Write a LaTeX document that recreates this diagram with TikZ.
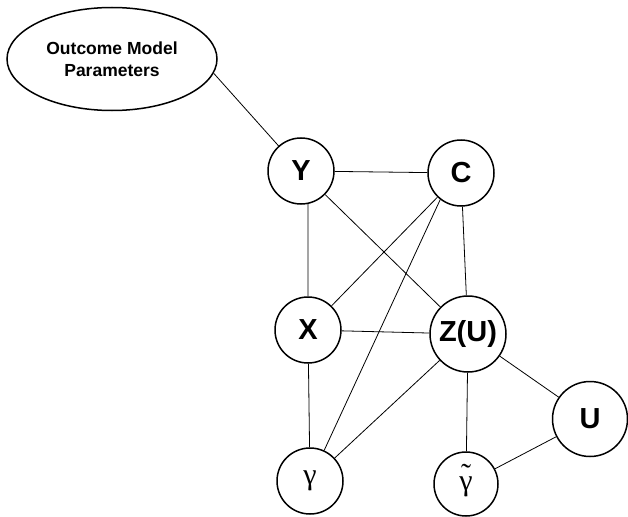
\documentclass[tikz,border=0pt]{standalone}
\usepackage{fontspec}
\setmainfont{Liberation Sans}
\newfontfamily\griego{Liberation Serif}
\usetikzlibrary{shapes.geometric}

\tikzset{
    nodovar/.style={circle, draw, line width=1.5pt, minimum size=66pt, inner sep=0pt,
        font=\fontsize{29}{30}\selectfont\bfseries},
    nodopar/.style={nodovar, font=\fontsize{30}{30}\griego},
    arista/.style={line width=0.8pt}
}

\begin{document}
\begin{tikzpicture}[x=1pt, y=-1pt]
        \useasboundingbox (0,0) rectangle (628,516);

        % Nodo de parametros del modelo
        \node[ellipse, draw, line width=1.5pt, minimum width=210pt, minimum height=103pt,
            align=center, font=\fontsize{17.5}{22}\selectfont\bfseries] (omp) at (112,59)
            {Outcome Model\\Parameters};

        % Variables
        \node[nodovar] (Y) at (301,171) {Y};
        \node[nodovar] (C) at (461,173) {C};
        \node[nodovar] (X) at (308,330) {X};
        \node[nodovar, minimum size=76pt] (Z) at (468,334) {Z(U)};
        \node[nodovar, minimum size=75pt] (U) at (590,419) {U};
        \node[nodopar] (g) at (310,481) {γ};
        \node[nodopar, minimum size=64pt] (gt) at (466,484)
            {\ooalign{γ\cr\hidewidth\raisebox{0.2em}{\char"02DC}\hidewidth}};

        % Aristas
        \draw[arista] (omp.-8) -- (Y);
        \draw[arista] (Y) -- (C);
        \draw[arista] (Y.282) -- (X);
        \draw[arista] (Y) -- (Z);
        \draw[arista] (C) -- (X);
        \draw[arista] (C.232) -- (g);
        \draw[arista] (C) -- (Z);
        \draw[arista] (X) -- (Z);
        \draw[arista] (X) -- (g);
        \draw[arista] (Z) -- (g);
        \draw[arista] (Z) -- (gt);
        \draw[arista] (Z) -- (U);
        \draw[arista] (U) -- (gt);

    \end{tikzpicture}
\end{document}
